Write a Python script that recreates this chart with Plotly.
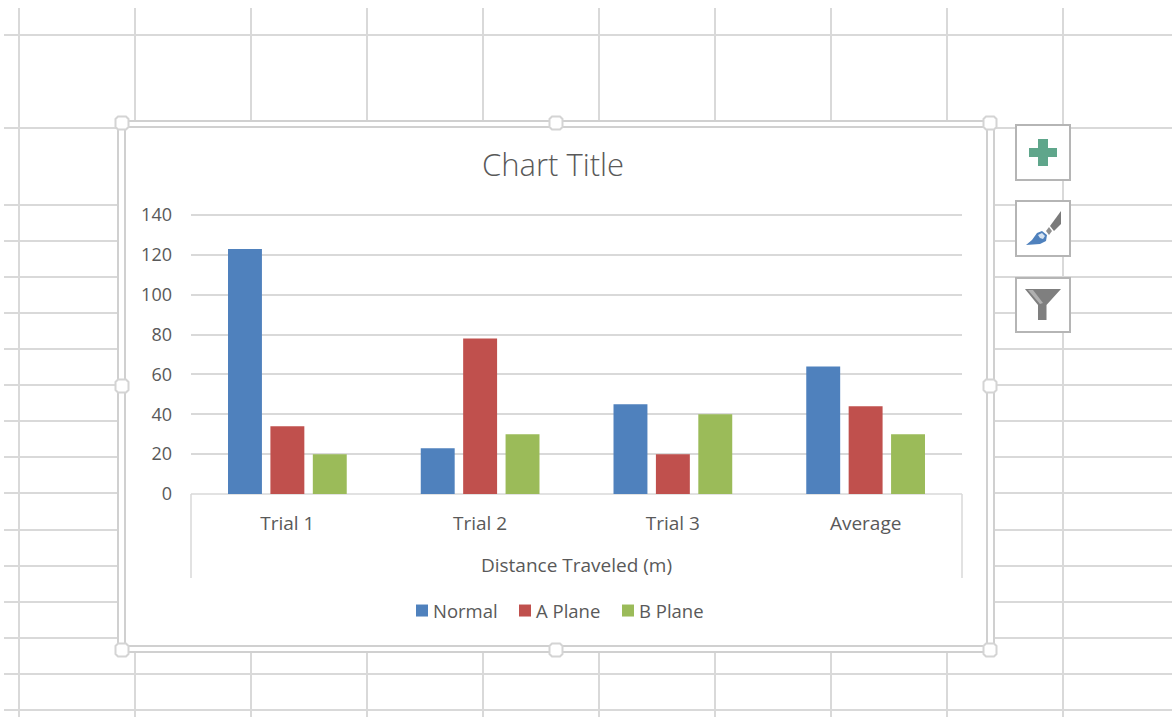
import plotly.graph_objects as go

W, H = 1172, 719
categories = ["Trial 1", "Trial 2", "Trial 3", "Average"]
normal = [123, 23, 45, 64]
a_plane = [34, 78, 20, 44]
b_plane = [20, 30, 40, 30]
y_ticks = [0, 20, 40, 60, 80, 100, 120, 140]
sheet_cols = [19, 135, 251, 367, 483, 599, 715, 831, 947, 1063]
sheet_rows = [35, 128, 205, 241, 277, 313, 349, 385, 421, 457, 493, 530, 566, 602, 638, 674, 710]

FONT = "Open Sans"
TXT = "#595959"
GRID = "#d9d9d9"
L, R, T, B = 191, 962, 213, 494


def px(x):
    return (x - L) / (R - L)


def py(y):
    return (B - y) / (B - T)


def line(x0, y0, x1, y1, color=GRID, width=2):
    return dict(type="line", xref="paper", yref="paper", x0=px(x0), y0=py(y0), x1=px(x1), y1=py(y1),
                line=dict(color=color, width=width), layer="below")


def rect(x0, y0, x1, y1, color="#d0d0d0", width=2, fill="white"):
    return dict(type="rect", xref="paper", yref="paper", x0=px(x0), y0=py(y0), x1=px(x1), y1=py(y1),
                line=dict(color=color, width=width), fillcolor=fill, layer="below")


def poly(points, fill, color=None, width=0):
    d = "M" + " L".join(f"{px(x):.5f},{py(y):.5f}" for x, y in points) + " Z"
    return dict(type="path", xref="paper", yref="paper", path=d, fillcolor=fill,
                line=dict(width=width, color=color), layer="below")


shapes = []
for x in sheet_cols:
    shapes.append(line(x, 8, x, 717))
for y in sheet_rows:
    shapes.append(line(4, y, W, y))
# chart frame
shapes.append(rect(118, 121, 994, 652))
shapes.append(rect(125, 127, 987, 646))
# selection handles (rounded)
for hx, hy in [(122, 123), (556, 123), (990, 123), (122, 386), (990, 386), (122, 650), (556, 650), (990, 650)]:
    s, c = 6.5, 2.5
    shapes.append(poly([(hx - s + c, hy - s), (hx + s - c, hy - s), (hx + s, hy - s + c), (hx + s, hy + s - c),
                        (hx + s - c, hy + s), (hx - s + c, hy + s), (hx - s, hy + s - c), (hx - s, hy - s + c)],
                       "white", "#d4d4d4", 2))
# axis frame
shapes.append(line(191, 494, 962, 494, width=1.5))
shapes.append(line(191, 494, 191, 578, width=1.5))
shapes.append(line(962, 494, 962, 578, width=1.5))
# side buttons
for y0, y1 in [(125, 180), (201, 256), (278, 332)]:
    shapes.append(rect(1016, y0, 1070, y1, color="#b5b5b5"))
# plus
shapes.append(poly([(1038, 139), (1048, 139), (1048, 148), (1057, 148), (1057, 157), (1048, 157), (1048, 166),
                    (1038, 166), (1038, 157), (1029, 157), (1029, 148), (1038, 148)], "#5fa68b"))
# brush
shapes.append(poly([(1061, 211), (1061, 224), (1054, 231), (1050, 226)], "#7a7a7a"))
shapes.append(poly([(1049, 227), (1052, 231), (1049, 235), (1046, 231)], "#8f8f8f"))
shapes.append(poly([(1026, 245), (1032, 240), (1037, 233), (1042, 231), (1047, 235), (1046, 241), (1040, 244)], "#4f81bd"))
shapes.append(poly([(1038, 235), (1042, 233), (1045, 236), (1043, 239), (1040, 238)], "#d6e3f1"))
# funnel
shapes.append(poly([(1025, 289), (1061, 289), (1046.5, 305), (1046.5, 320), (1038, 320), (1038, 305)], "#7f7f7f"))
shapes.append(poly([(1028, 290), (1033, 290), (1043, 303), (1040, 304)], "#b0b0b0"))

fig = go.Figure()
for name, vals, col in [("Normal", normal, "#4f81bd"), ("A Plane", a_plane, "#c0504d"), ("B Plane", b_plane, "#9bbb59")]:
    fig.add_bar(x=categories, y=vals, name=name, marker=dict(color=col, line=dict(width=0)))

fig.update_layout(
    width=W, height=H, autosize=False,
    margin=dict(l=L, r=W - R, t=T, b=H - B, pad=0),
    paper_bgcolor="white", plot_bgcolor="rgba(0,0,0,0)",
    font=dict(family=FONT, color=TXT, size=18),
    barmode="group", bargap=0.34, bargroupgap=0.2,
    shapes=shapes,
    showlegend=True,
    legend=dict(orientation="h", x=px(402), y=py(611), xanchor="left", yanchor="middle",
                bgcolor="rgba(0,0,0,0)", font=dict(size=18.5, family=FONT, color=TXT),
                entrywidth=58, entrywidthmode="pixels", itemwidth=30, traceorder="normal"),
    title=dict(text="Chart Title", x=553 / W, y=1 - 165 / H, xanchor="center", yanchor="middle",
               font=dict(size=31, family=FONT, color=TXT, weight=300)),
    xaxis=dict(showgrid=False, showline=False, ticks="", zeroline=False,
               ticklabelstandoff=16, tickfont=dict(size=19, family=FONT, color=TXT),
               title=dict(text="Distance Traveled (m)", standoff=23, font=dict(size=19, family=FONT, color=TXT))),
    yaxis=dict(range=[0, 141.004], tickvals=y_ticks, showgrid=True, gridcolor=GRID, gridwidth=2, showline=False,
               zeroline=False, ticks="", ticklabelstandoff=18,
               tickfont=dict(size=18, family=FONT, color=TXT)),
)
fig.write_html(
    "out.html",
    config={"displayModeBar": False},
    post_script="document.body.style.margin='0';"
                "document.querySelectorAll('.legendtext').forEach(function(t){t.setAttribute('x','31');});",
)
